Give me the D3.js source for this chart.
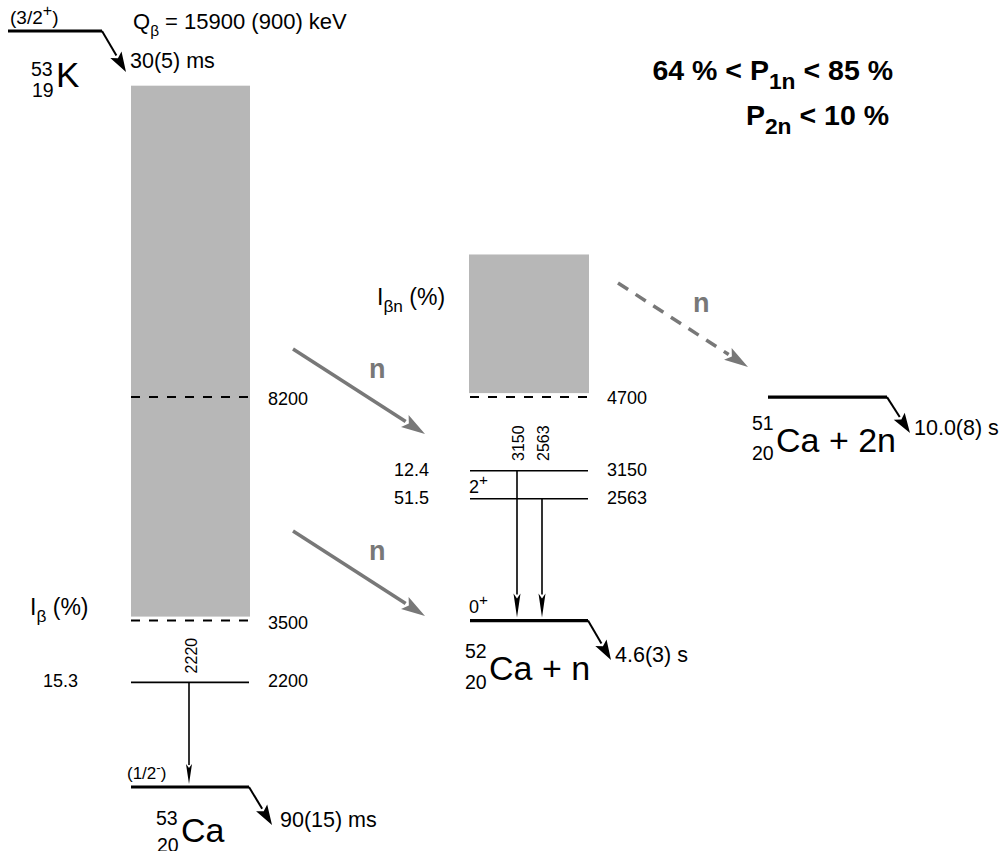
<!DOCTYPE html>
<html><head><meta charset="utf-8">
<script src="https://cdn.jsdelivr.net/npm/d3@7"></script>
<style>body{margin:0;background:#fff}</style>
</head><body>
<svg id="c" width="1001" height="851"></svg>
<script>
// ---------------- DATA ----------------
const qBetaKeV = 15900;
const qBetaLabel = "15900 (900) keV";
const columnNames = ["53Ca", "52Ca + n", "51Ca + 2n"];
const columnOffsets = [0, 3500, 8200];          // keV, ground states relative to 53Ca g.s.
const halfLives = ["30(5) ms", "90(15) ms", "4.6(3) s", "10.0(8) s"]; // 53K, 53Ca, 52Ca, 51Ca

// 53Ca levels
const ca53Levels = [0, 2200];
const ca53LevelLabels = ["", "2200"];
const ca53IBeta = ["", "15.3"];
const ca53Thresholds = [3500, 8200];             // dashed lines (S_n, S_2n)
const ca53ContinuumTop = 14750;
const ca53Gammas = [{from: 2200, to: 0, label: "2220"}];

// 52Ca levels
const ca52Levels = [0, 2563, 3150];
const ca52LevelLabels = ["", "2563", "3150"];
const ca52IBetaN = ["", "51.5", "12.4"];
const ca52Thresholds = [4700];
const ca52ContinuumTop = 7700;
const ca52Gammas = [{from: 3150, to: 0, label: "3150"}, {from: 2563, to: 0, label: "2563"}];

const pLabels = [["64 % < P", "1n", " < 85 %"], ["P", "2n", " < 10 %"]];

// ---------------- LAYOUT ----------------
const FONT = "'Liberation Sans', Arial, Helvetica, sans-serif";
const svg = d3.select("#c").style("font-family", FONT);
const y = d3.scaleLinear().domain([0, qBetaKeV]).range([787, 31]);
const colLeft = [131, 470, 768];
const colW = 118;
const GRAY = "#787878";

function arrow(g, x1, y1, x2, y2, o) {
  const dx = x2 - x1, dy = y2 - y1, L = Math.hypot(dx, dy);
  const ux = dx / L, uy = dy / L;
  const bx = x2 - ux * o.hl, by = y2 - uy * o.hl;
  g.append("line").attr("x1", x1).attr("y1", y1).attr("x2", bx + ux * 1).attr("y2", by + uy * 1)
    .attr("stroke", o.color).attr("stroke-width", o.w).attr("stroke-dasharray", o.dash || null);
  const px = -uy, py = ux;
  g.append("path").attr("d", `M${x2},${y2}L${bx + px * o.hw / 2},${by + py * o.hw / 2}L${bx + ux * o.hl * 0.2},${by + uy * o.hl * 0.2}L${bx - px * o.hw / 2},${by - py * o.hw / 2}Z`)
    .attr("fill", o.color);
}

function rich(g, x, yy, parts, size, attrs) {
  const t = g.append("text").attr("x", x).attr("y", yy).attr("font-size", size);
  Object.entries(attrs || {}).forEach(([k, v]) => t.attr(k, v));
  let shift = 0;
  parts.forEach(p => {
    const ts = t.append("tspan");
    if (typeof p === "string") {
      ts.attr("dy", -shift).text(p); shift = 0;
    } else {
      const s = p.sub ? size * 0.32 : -size * 0.42;
      ts.attr("dy", s - shift).attr("font-size", size * (p.scale || 0.7)).text(p.t); shift = s;
    }
  });
  return t;
}

const g = svg.append("g");

// continua (gray boxes)
g.append("rect").attr("x", colLeft[0]).attr("width", colW + 1)
  .attr("y", y(ca53ContinuumTop)).attr("height", y(ca53Thresholds[0]) - 4 - y(ca53ContinuumTop)).attr("fill", "#b7b7b7");
g.append("rect").attr("x", colLeft[1] - 1).attr("width", colW + 2)
  .attr("y", y(columnOffsets[1] + ca52ContinuumTop)).attr("height", y(columnOffsets[1] + ca52Thresholds[0]) - 4 - y(columnOffsets[1] + ca52ContinuumTop)).attr("fill", "#b7b7b7");

// parent 53K
g.append("line").attr("x1", 8).attr("x2", 102).attr("y1", y(qBetaKeV)).attr("y2", y(qBetaKeV)).attr("stroke", "#000").attr("stroke-width", 3);
arrow(g, 102, y(qBetaKeV), 126, 72, {hl: 20, hw: 13, color: "#000", w: 2});
rich(g, 10, 24, ["(3/2", {t: "+", sup: true, scale: 0.85}, ")"], 19);
rich(g, 133, 29, ["Q", {t: "β", sub: true}, " = " + qBetaLabel], 22);
g.append("text").attr("x", 130).attr("y", 68).attr("font-size", 21.5).text(halfLives[0]);
g.append("text").attr("x", 31).attr("y", 76).attr("font-size", 19.5).text("53");
g.append("text").attr("x", 32).attr("y", 97).attr("font-size", 19.5).text("19");
g.append("text").attr("x", 56).attr("y", 87).attr("font-size", 35).text("K");

// 53Ca levels
ca53Levels.forEach((E, i) => {
  const gs = E === 0;
  g.append("line").attr("x1", colLeft[0]).attr("x2", colLeft[0] + colW).attr("y1", y(E)).attr("y2", y(E))
    .attr("stroke", "#000").attr("stroke-width", gs ? 3.2 : 1.6);
  if (ca53LevelLabels[i]) g.append("text").attr("x", 268).attr("y", y(E) + 5).attr("font-size", 18).text(ca53LevelLabels[i]);
  if (ca53IBeta[i]) g.append("text").attr("x", 78).attr("y", y(E) + 5).attr("font-size", 18).attr("text-anchor", "end").text(ca53IBeta[i]);
});
ca53Thresholds.forEach(E => {
  g.append("line").attr("x1", colLeft[0]).attr("x2", colLeft[0] + colW).attr("y1", y(E)).attr("y2", y(E))
    .attr("stroke", "#000").attr("stroke-width", 2).attr("stroke-dasharray", "9,9");
  g.append("text").attr("x", 268).attr("y", y(E) + 8).attr("font-size", 18).text(String(E));
});
ca53Gammas.forEach(gm => {
  const x = 189;
  arrow(g, x, y(gm.from), x, y(gm.to) - 3, {hl: 20, hw: 6, color: "#000", w: 1.6});
  g.append("text").attr("transform", `translate(${x + 8},${y(gm.from) - 9}) rotate(-90)`).attr("font-size", 16).text(gm.label);
});
rich(g, 127, 779, ["(1/2", {t: "-", sup: true, scale: 0.8}, ")"], 17);
arrow(g, colLeft[0] + colW, y(0), 272, 825, {hl: 20, hw: 13, color: "#000", w: 2});
g.append("text").attr("x", 280).attr("y", 827).attr("font-size", 21.5).text(halfLives[1]);
g.append("text").attr("x", 156).attr("y", 825).attr("font-size", 19.5).text("53");
g.append("text").attr("x", 157).attr("y", 852).attr("font-size", 19.5).text("20");
g.append("text").attr("x", 181).attr("y", 842).attr("font-size", 34).text("Ca");
rich(g, 30, 615, ["I", {t: "β", sub: true, scale: 0.75}, " (%)"], 23);

// 52Ca levels
const o1 = columnOffsets[1];
ca52Levels.forEach((E, i) => {
  const gs = E === 0;
  g.append("line").attr("x1", colLeft[1]).attr("x2", colLeft[1] + colW).attr("y1", y(o1 + E)).attr("y2", y(o1 + E))
    .attr("stroke", "#000").attr("stroke-width", gs ? 3.2 : 1.6);
  if (ca52LevelLabels[i]) g.append("text").attr("x", 607).attr("y", y(o1 + E) + 5).attr("font-size", 18).text(ca52LevelLabels[i]);
  if (ca52IBetaN[i]) g.append("text").attr("x", 429).attr("y", y(o1 + E) + 5).attr("font-size", 18).attr("text-anchor", "end").text(ca52IBetaN[i]);
});
ca52Thresholds.forEach(E => {
  g.append("line").attr("x1", colLeft[1]).attr("x2", colLeft[1] + colW).attr("y1", y(o1 + E)).attr("y2", y(o1 + E))
    .attr("stroke", "#000").attr("stroke-width", 2).attr("stroke-dasharray", "9,9");
  g.append("text").attr("x", 607).attr("y", y(o1 + E) + 7).attr("font-size", 18).text(String(E));
});
const gx52 = [517, 542];
ca52Gammas.forEach((gm, i) => {
  const x = gx52[i];
  arrow(g, x, y(o1 + gm.from), x, y(o1 + gm.to) - 3, {hl: 24, hw: 7, color: "#000", w: 1.6});
  g.append("text").attr("transform", `translate(${x + 7},461) rotate(-90)`).attr("font-size", 16).text(gm.label);
});
rich(g, 469, 493, ["2", {t: "+", sup: true, scale: 0.85}], 18);
rich(g, 469, 613, ["0", {t: "+", sup: true, scale: 0.85}], 18);
arrow(g, colLeft[1] + colW, y(o1), 611, 660, {hl: 20, hw: 13, color: "#000", w: 2});
g.append("text").attr("x", 615).attr("y", 662).attr("font-size", 21.5).text(halfLives[2]);
g.append("text").attr("x", 465).attr("y", 658).attr("font-size", 19.5).text("52");
g.append("text").attr("x", 465).attr("y", 689).attr("font-size", 19.5).text("20");
g.append("text").attr("x", 489).attr("y", 680).attr("font-size", 34).text("Ca + n");
rich(g, 377, 305, ["I", {t: "βn", sub: true, scale: 0.75}, " (%)"], 23);

// 51Ca + 2n
const o2 = columnOffsets[2];
g.append("line").attr("x1", colLeft[2]).attr("x2", colLeft[2] + colW + 1).attr("y1", y(o2)).attr("y2", y(o2))
  .attr("stroke", "#000").attr("stroke-width", 3.2);
arrow(g, colLeft[2] + colW + 1, y(o2), 910, 433, {hl: 20, hw: 13, color: "#000", w: 2});
g.append("text").attr("x", 914).attr("y", 435).attr("font-size", 21.5).text(halfLives[3]);
g.append("text").attr("x", 752).attr("y", 430).attr("font-size", 19.5).text("51");
g.append("text").attr("x", 752).attr("y", 460).attr("font-size", 19.5).text("20");
g.append("text").attr("x", 776).attr("y", 452).attr("font-size", 34).text("Ca + 2n");

// neutron arrows
arrow(g, 293, 349, 425, 434, {hl: 24, hw: 14, color: GRAY, w: 3.5});
arrow(g, 293, 531, 425, 616, {hl: 24, hw: 14, color: GRAY, w: 3.5});
arrow(g, 618, 283, 748, 367, {hl: 24, hw: 14, color: GRAY, w: 3.5, dash: "12,9"});
[[369, 378], [369, 560], [693, 312]].forEach(([x, yy]) =>
  g.append("text").attr("x", x).attr("y", yy).attr("font-size", 27).attr("font-weight", "bold").attr("fill", GRAY).text("n"));

// P labels
rich(g, 893, 80, [pLabels[0][0], {t: pLabels[0][1], sub: true, scale: 0.8}, pLabels[0][2]], 28.5, {"font-weight": "bold", "text-anchor": "end"});
rich(g, 889, 125, [pLabels[1][0], {t: pLabels[1][1], sub: true, scale: 0.8}, pLabels[1][2]], 28.5, {"font-weight": "bold", "text-anchor": "end"});
</script>
</body></html>
